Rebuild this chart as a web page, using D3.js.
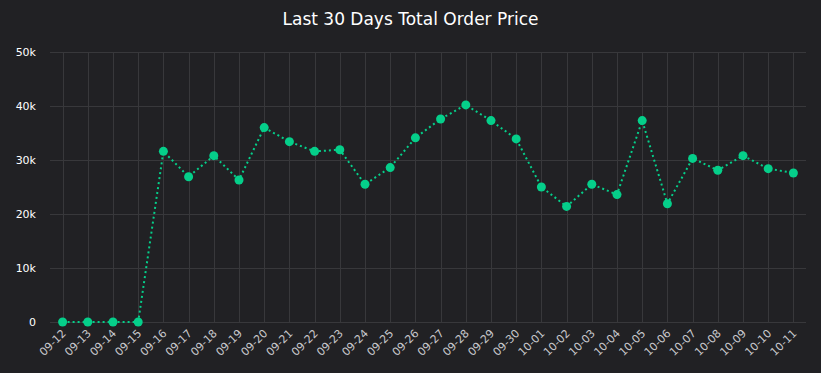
<!DOCTYPE html>
<html><head><meta charset="utf-8">
<script src="https://cdn.jsdelivr.net/npm/d3@7"></script>
<style>
html,body{margin:0;padding:0;background:#212124;}
svg{display:block;}
</style></head>
<body>
<svg id="chart" width="821" height="373"></svg>
<script>
const categories = ["09-12","09-13","09-14","09-15","09-16","09-17","09-18","09-19","09-20","09-21","09-22","09-23","09-24","09-25","09-26","09-27","09-28","09-29","09-30","10-01","10-02","10-03","10-04","10-05","10-06","10-07","10-08","10-09","10-10","10-11"];
const values = [0,0,0,0,31600,26900,30800,26300,36000,33400,31600,31900,25500,28600,34100,37600,40200,37300,33900,25000,21400,25500,23600,37300,21900,30300,28100,30800,28400,27600];
const yTicks = [0,10000,20000,30000,40000,50000];
const yTickLabels = ["0","10k","20k","30k","40k","50k"];
const title = "Last 30 Days Total Order Price";

const FONT = "'DejaVu Sans', Verdana, sans-serif";
const svg = d3.select("#chart");
const W = 821, H = 373;
const m = {left:50, right:15, top:52, bottom:51};
const x = d3.scalePoint().domain(categories).range([m.left, W - m.right]).padding(0.5);
const y = d3.scaleLinear().domain([0,50000]).range([H - m.bottom, m.top]);

svg.append("rect").attr("width",W).attr("height",H).attr("fill","#212124");

svg.append("text").attr("x",W/2).attr("y",25).attr("text-anchor","middle")
  .attr("fill","#ffffff").attr("font-family",FONT)
  .attr("font-size",17).text(title);

// horizontal grid
svg.append("g").selectAll("line").data(yTicks).join("line")
  .attr("x1",m.left).attr("x2",W - m.right)
  .attr("y1",d=>y(d)+0.5).attr("y2",d=>y(d)+0.5)
  .attr("stroke","#38383b").attr("stroke-width",1);
// vertical grid
svg.append("g").selectAll("line").data(categories).join("line")
  .attr("x1",d=>Math.round(x(d))+0.5).attr("x2",d=>Math.round(x(d))+0.5)
  .attr("y1",y(50000)).attr("y2",y(0))
  .attr("stroke","#38383b").attr("stroke-width",1);

// y labels
svg.append("g").selectAll("text").data(yTicks).join("text")
  .attr("x",36).attr("y",d=>y(d)+4).attr("text-anchor","end")
  .attr("fill","#ffffff").attr("font-family",FONT)
  .attr("font-size",11).text((d,i)=>yTickLabels[i]);

// x labels
svg.append("g").selectAll("text").data(categories).join("text")
  .attr("transform",d=>`translate(${x(d)+4},${y(0)+12}) rotate(-45)`)
  .attr("text-anchor","end")
  .attr("fill","#c8c8cc").attr("font-family",FONT)
  .attr("font-size",11).text(d=>d);

const line = d3.line().x((d,i)=>x(categories[i])).y(d=>y(d));
svg.append("path").datum(values).attr("d",line)
  .attr("fill","none").attr("stroke","#05cf8a").attr("stroke-width",2)
  .attr("stroke-dasharray","2,3");

svg.append("g").selectAll("circle").data(values).join("circle")
  .attr("cx",(d,i)=>x(categories[i])).attr("cy",d=>y(d)).attr("r",4.5)
  .attr("fill","#05cf8a");
</script>
</body></html>
